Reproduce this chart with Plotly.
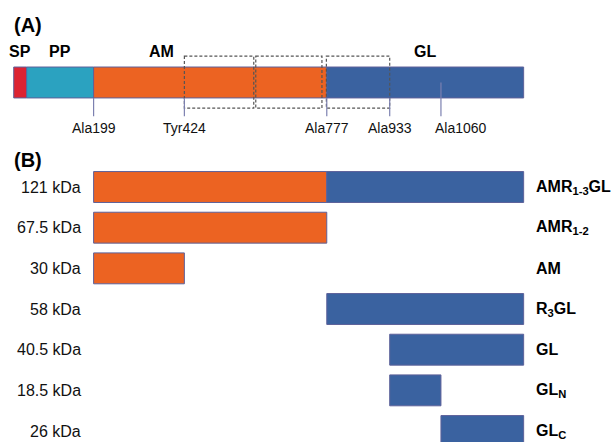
import plotly.graph_objects as go

# ---------------- data ----------------
# Panel A: domains of the full-length protein (residue numbers)
domain_names = ["SP", "PP", "AM", "GL"]
domain_start = [1, 33, 199, 777]
domain_end = [33, 199, 777, 1265]
domain_colors = ["#dc2332", "#2ba2c0", "#ec6322", "#3a62a0"]
domain_label_pos = [17, 116, 367, 1021]

# residue markers
marker_names = ["Ala199", "Tyr424", "Ala777", "Ala933", "Ala1060"]
marker_pos = [199, 424, 777, 933, 1060]

# repeat regions (dashed boxes)
repeat_start = [424, 601, 776]
repeat_end = [596, 765, 933]

# Panel B: expressed fragments
frag_names = ["AMR<sub>1-3</sub>GL", "AMR<sub>1-2</sub>", "AM", "R<sub>3</sub>GL",
              "GL", "GL<sub>N</sub>", "GL<sub>C</sub>"]
frag_mass = ["121 kDa", "67.5 kDa", "30 kDa", "58 kDa", "40.5 kDa", "18.5 kDa", "26 kDa"]
am_start = [199, 199, 199, None, None, None, None]
am_end = [777, 777, 424, None, None, None, None]
gl_start = [777, None, None, 777, 933, 933, 1060]
gl_end = [1265, None, None, 1265, 1265, 1060, 1265]

ORANGE = "#ec6322"
BLUE = "#3a62a0"
OUTLINE = "#5d619a"
FONT = "Arial, Liberation Sans, sans-serif"

fig = go.Figure()

# Panel A: full-length bar
for name, s, e, c in zip(domain_names, domain_start, domain_end, domain_colors):
    fig.add_trace(go.Bar(
        x=[e - s], base=[s], y=["full"], orientation="h", width=0.76,
        marker=dict(color=c, line=dict(color=OUTLINE, width=1)),
        yaxis="y", xaxis="x", showlegend=False, hoverinfo="skip", name=name))

# Panel B: fragment bars
def lengths(st, en):
    return [None if a is None else b - a for a, b in zip(st, en)]

fig.add_trace(go.Bar(
    x=lengths(am_start, am_end), base=am_start, y=frag_names, orientation="h",
    width=0.76, marker=dict(color=ORANGE, line=dict(color=OUTLINE, width=1)),
    yaxis="y2", xaxis="x", showlegend=False, hoverinfo="skip"))
fig.add_trace(go.Bar(
    x=lengths(gl_start, gl_end), base=gl_start, y=frag_names, orientation="h",
    width=0.76, marker=dict(color=BLUE, line=dict(color=OUTLINE, width=1)),
    yaxis="y2", xaxis="x", showlegend=False, hoverinfo="skip"))

shapes = []
# dashed repeat boxes
for s, e in zip(repeat_start, repeat_end):
    shapes.append(dict(type="rect", xref="x", yref="y", x0=s, x1=e, y0=-0.65, y1=0.63,
                       line=dict(color="#555555", width=1.2, dash="3px,2px"),
                       fillcolor="rgba(0,0,0,0)", layer="above"))
# residue tick lines
for n, p in zip(marker_names, marker_pos):
    y0 = 0.0 if n == "Ala1060" else 0.38
    shapes.append(dict(type="line", xref="x", yref="y", x0=p, x1=p, y0=y0, y1=0.83,
                       line=dict(color="#7c80b0", width=1.2), layer="above"))

annotations = []
annotations.append(dict(text="(A)", xref="paper", yref="paper", x=12/612, y=1-25/442,
                        xanchor="left", yanchor="middle", showarrow=False,
                        font=dict(family=FONT, size=20, color="black", weight="bold")))
annotations.append(dict(text="(B)", xref="paper", yref="paper", x=12/612, y=1-160/442,
                        xanchor="left", yanchor="middle", showarrow=False,
                        font=dict(family=FONT, size=20, color="black", weight="bold")))
for n, p in zip(domain_names, domain_label_pos):
    annotations.append(dict(text=n, xref="x", yref="y", x=p, y=-0.75, showarrow=False,
                            xanchor="center", yanchor="middle",
                            font=dict(family=FONT, size=16, color="black", weight="bold")))
for n, p in zip(marker_names, marker_pos):
    annotations.append(dict(text=n, xref="x", yref="y", x=p, y=1.12, showarrow=False,
                            xanchor="center", yanchor="middle",
                            xshift=20 if n == "Ala1060" else 0,
                            font=dict(family=FONT, size=14, color="#111111")))
for n, m in zip(frag_names, frag_mass):
    annotations.append(dict(text=m, xref="paper", yref="y2", x=83/612, y=n, showarrow=False,
                            xanchor="right", yanchor="middle",
                            font=dict(family=FONT, size=16, color="#111111")))
    annotations.append(dict(text=n, xref="paper", yref="y2", x=534/612, y=n, showarrow=False,
                            xanchor="left", yanchor="middle",
                            font=dict(family=FONT, size=16, color="black", weight="bold")))

fig.update_layout(
    width=612, height=442, autosize=False,
    margin=dict(l=0, r=0, t=0, b=0),
    paper_bgcolor="white", plot_bgcolor="white",
    barmode="overlay",
    xaxis=dict(range=[-33, 1484], visible=False, showgrid=False, zeroline=False),
    yaxis=dict(domain=[0.7, 1.0], range=[1.232, -2.028], type="category",
               categoryorder="array", categoryarray=["full"],
               visible=False, showgrid=False, zeroline=False),
    yaxis2=dict(domain=[0.0, 0.7], range=[6.27, -1.338], type="category",
                categoryorder="array", categoryarray=frag_names,
                visible=False, showgrid=False, zeroline=False),
    shapes=shapes, annotations=annotations,
)

fig.write_html("out.html", config={"displayModeBar": False},
               post_script="document.body.style.margin='0';document.body.style.overflow='hidden';")
